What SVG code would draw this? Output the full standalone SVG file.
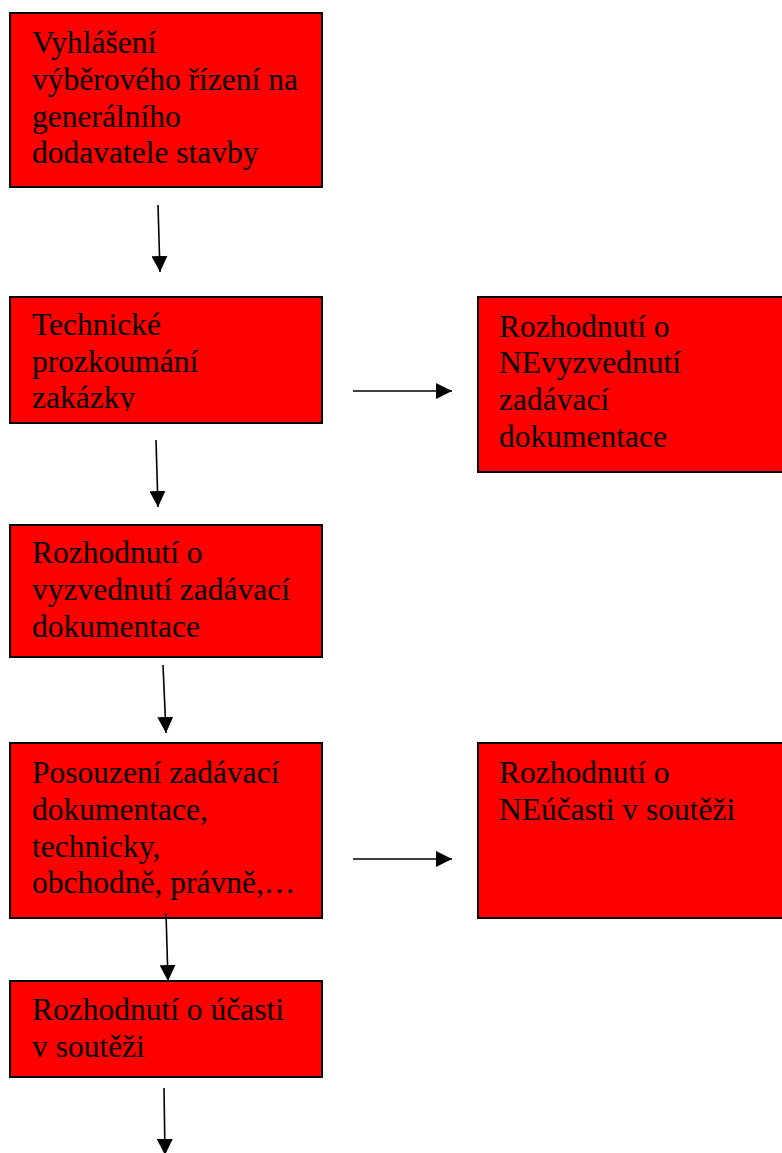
<svg xmlns="http://www.w3.org/2000/svg" width="782" height="1153" viewBox="0 0 782 1153">
<style>
.box{fill:#ff0000;stroke:#000;stroke-width:2}
.t{font-family:"Liberation Serif","Times New Roman",serif;font-size:31.5px;fill:#000}
.c{stroke:#000;stroke-width:1.6;fill:none}
</style>
<defs>
<marker id="ah" markerUnits="userSpaceOnUse" markerWidth="16" markerHeight="16" viewBox="0 0 16 16" refX="16" refY="8" orient="auto">
<path d="M0,0 L16,8 L0,16 Z" fill="#000"/>
</marker>
<clipPath id="clip2"><rect x="10" y="297" width="312" height="114"/></clipPath>
</defs>
<rect width="782" height="1153" fill="#fff"/>
<g id="n1">
<rect class="box" x="10" y="13" width="312" height="174"/>
<text class="t" x="32" y="53">Vyhlášení</text>
<text class="t" x="32" y="90">výběrového řízení na</text>
<text class="t" x="32" y="127">generálního</text>
<text class="t" x="32" y="163">dodavatele stavby</text>
</g>
<g id="n2">
<rect class="box" x="10" y="297" width="312" height="126"/>
<g clip-path="url(#clip2)">
<text class="t" x="32" y="335">Technické</text>
<text class="t" x="32" y="372">prozkoumání</text>
<text class="t" x="32" y="408">zakázky</text>
</g>
</g>
<g id="n3">
<rect class="box" x="478" y="297" width="306" height="175"/>
<text class="t" x="499" y="337">Rozhodnutí o</text>
<text class="t" x="499" y="373">NEvyzvednutí</text>
<text class="t" x="499" y="410">zadávací</text>
<text class="t" x="499" y="447">dokumentace</text>
</g>
<g id="n4">
<rect class="box" x="10" y="525" width="312" height="132"/>
<text class="t" x="32" y="563">Rozhodnutí o</text>
<text class="t" x="32" y="600">vyzvednutí zadávací</text>
<text class="t" x="32" y="637">dokumentace</text>
</g>
<g id="n5">
<rect class="box" x="10" y="743" width="312" height="175"/>
<text class="t" x="32" y="783">Posouzení zadávací</text>
<text class="t" x="32" y="820">dokumentace,</text>
<text class="t" x="32" y="857">technicky,</text>
<text class="t" x="32" y="893">obchodně, právně,…</text>
</g>
<g id="n6">
<rect class="box" x="478" y="743" width="306" height="175"/>
<text class="t" x="499" y="783">Rozhodnutí o</text>
<text class="t" x="499" y="820">NEúčasti v soutěži</text>
</g>
<g id="n7">
<rect class="box" x="10" y="981" width="312" height="96"/>
<text class="t" x="32" y="1020">Rozhodnutí o účasti</text>
<text class="t" x="32" y="1057">v soutěži</text>
</g>
<g id="connectors">
<line class="c" x1="158" y1="205" x2="160" y2="272" marker-end="url(#ah)"/>
<line class="c" x1="156" y1="440" x2="158" y2="507" marker-end="url(#ah)"/>
<line class="c" x1="163" y1="665" x2="166" y2="733" marker-end="url(#ah)"/>
<line class="c" x1="166" y1="913" x2="168" y2="981" marker-end="url(#ah)"/>
<line class="c" x1="164" y1="1088" x2="165" y2="1155" marker-end="url(#ah)"/>
<line class="c" x1="353" y1="391" x2="452" y2="391" marker-end="url(#ah)"/>
<line class="c" x1="353" y1="859" x2="452" y2="859" marker-end="url(#ah)"/>
</g>
</svg>
